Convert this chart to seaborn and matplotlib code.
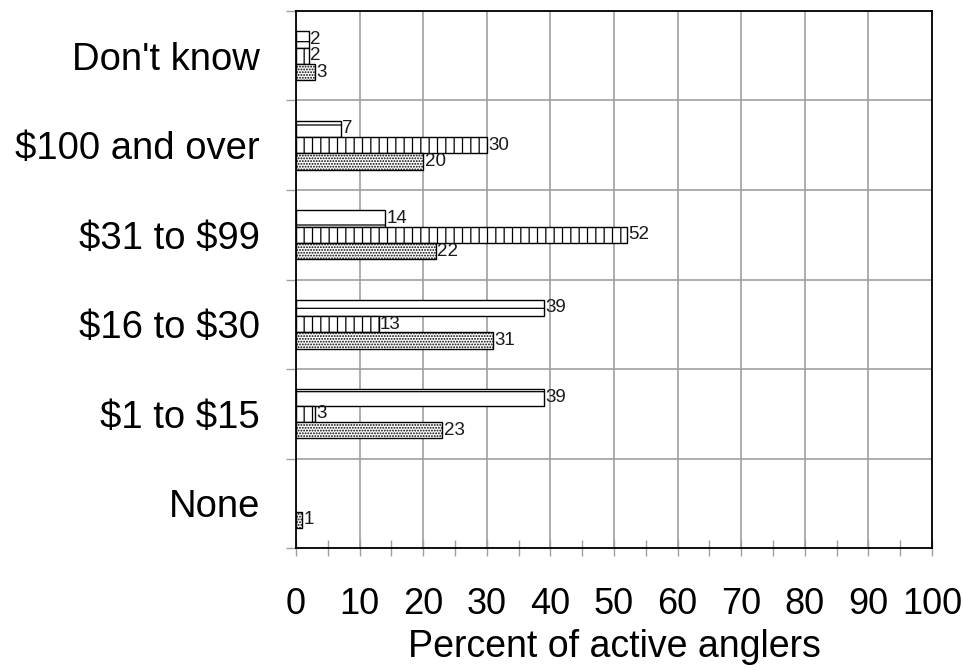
import numpy as np
import pandas as pd
import matplotlib
matplotlib.use("Agg")
import matplotlib.pyplot as plt
from matplotlib.ticker import MultipleLocator
import seaborn as sns

# values (top category first)
categories = ["Don't know", "$100 and over", "$31 to $99", "$16 to $30", "$1 to $15", "None"]
series_a = [2, 7, 14, 39, 39, np.nan]
series_b = [2, 30, 52, 13, 3, np.nan]
series_c = [3, 20, 22, 31, 23, 1]
series_names = ["Series A", "Series B", "Series C"]
x_ticks = list(range(0, 101, 10))

sns.set_style("white")
plt.rcParams["font.family"] = ["Liberation Sans", "DejaVu Sans"]
plt.rcParams["text.parse_math"] = False
plt.rcParams["hatch.linewidth"] = 0.9
plt.rcParams["text.color"] = "black"
plt.rcParams["xtick.labelcolor"] = "black"
plt.rcParams["ytick.labelcolor"] = "black"
plt.rcParams["axes.labelcolor"] = "black"

df = pd.DataFrame({
    "category": categories * 3,
    "series": np.repeat(series_names, len(categories)),
    "value": series_a + series_b + series_c,
})

fig = plt.figure(figsize=(9.63, 6.7), dpi=100)
ax = fig.add_axes([0.3074, 0.182, 0.6604, 0.8016])

sns.barplot(data=df, y="category", x="value", hue="series", order=categories,
            hue_order=series_names, orient="h", width=0.55,
            palette=["white"] * 3, edgecolor="black", linewidth=1.0,
            legend=False, errorbar=None, ax=ax)

hatches = ["-", "||", "......"]
for cont, h in zip(ax.containers, hatches):
    for bar in cont:
        bar.set_hatch(h)
        bar.set_zorder(3)
    ax.bar_label(cont, fmt="%g", padding=1, fontsize=13.5, color="#1a1a1a")

# axes styling
ax.set_xlim(0, 100)
ax.set_ylim(len(categories) - 0.5, -0.5)
ax.set_xticks(x_ticks)
ax.xaxis.set_minor_locator(MultipleLocator(5))
ax.set_yticks(np.arange(len(categories) + 1) - 0.5, minor=True)

ax.grid(True, axis="x", which="major", color="#a0a0a0", linewidth=1.2, zorder=0)
ax.grid(True, axis="y", which="minor", color="#a0a0a0", linewidth=1.2, zorder=0)
ax.set_axisbelow(True)

for side in ["left", "right", "top", "bottom"]:
    ax.spines[side].set_visible(True)
    ax.spines[side].set_color("black")
    ax.spines[side].set_linewidth(1.3)

ax.tick_params(axis="x", which="both", bottom=True, direction="inout", length=12,
               width=1, color="#a0a0a0", labelsize=26, pad=22)
ax.tick_params(axis="y", which="major", left=False, length=0, labelsize=27.5, pad=26)
ax.tick_params(axis="y", which="minor", left=True, direction="out", length=7,
               width=1, color="#a0a0a0")

ax.set_ylabel("")
ax.set_xlabel("Percent of active anglers", fontsize=27, labelpad=5)

fig.savefig("out.png", dpi=100)
